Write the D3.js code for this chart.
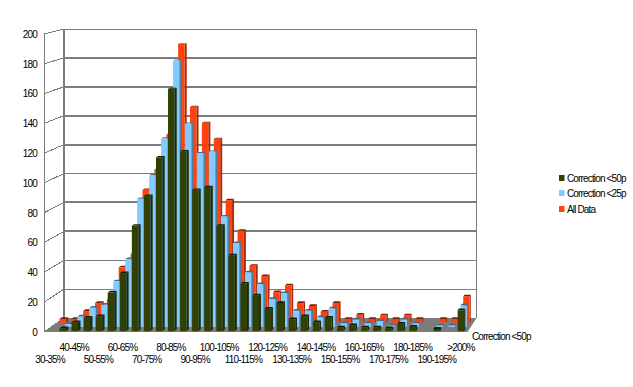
<!DOCTYPE html>
<html>
<head>
<meta charset="utf-8">
<script src="https://cdn.jsdelivr.net/npm/d3@7"></script>
<style>
  html, body { margin: 0; padding: 0; background: #fff; }
  text { font-family: "Liberation Sans", Arial, sans-serif; font-size: 10px; letter-spacing: -0.85px; fill: #000; }
</style>
</head>
<body>
<svg id="chart" width="633" height="387"></svg>
<script>
// bins, 30-35% up to >200%
const categories = ['30-35%', '35-40%', '40-45%', '45-50%', '50-55%', '55-60%', '60-65%', '65-70%', '70-75%', '75-80%',
  '80-85%', '85-90%', '90-95%', '95-100%', '100-105%', '105-110%', '110-115%', '115-120%', '120-125%', '125-130%',
  '130-135%', '135-140%', '140-145%', '145-150%', '150-155%', '155-160%', '160-165%', '165-170%', '170-175%', '175-180%',
  '180-185%', '185-190%', '190-195%', '195-200%', '>200%'];

const correction50 = [0, 2, 6, 9, 10, 26, 39, 71, 91, 117, 163, 121, 95, 97, 71, 51, 32, 24, 15, 19,
  8, 10, 6, 9, 2.5, 4, 2.5, 2.5, 2, 5, 3, 0, 1.5, 0, 14];
const correction25 = [0, 2, 7, 13, 15, 31, 46, 87, 103, 128, 181, 138, 118, 119, 75, 57, 37, 29, 19, 23,
  11, 11, 6.5, 12.5, 2.5, 5, 2.5, 4, 1, 5, 2.5, 0, 1, 1, 14.5];
const allData = [2.5, 2.5, 8, 13.5, 16, 38, 47, 91, 105, 129, 191, 148, 137, 126, 84, 63, 39, 32, 21, 25.5,
  13.5, 11.5, 7.5, 13.5, 2.5, 5.5, 2.5, 5, 2.5, 5, 2.5, 0, 2.5, 2.5, 18];

const yTicks = [0, 20, 40, 60, 80, 100, 120, 140, 160, 180, 200];
const thickTicks = [60, 80, 120, 140, 160, 180];
const seriesNames = ['Correction <50p', 'Correction <25p', 'All Data'];
const seriesColors = ['#314004', '#83caff', '#ff420e'];
const sideColors = ['#1f2902', '#4d7fa3', '#a62d0a'];
const topColors = ['#151c02', '#3f6c8c', '#7a2106'];

const n = categories.length;
const svg = d3.select('#chart');

// front edge of the floor and back wall have their own scales, depth blends between them
const frontX = d3.scaleLinear().domain([0, n]).range([44, 467]);
const backX = d3.scaleLinear().domain([0, n]).range([64, 476]);
const frontY = d3.scaleLinear().domain([0, 200]).range([332, 34]);
const backY = d3.scaleLinear().domain([0, 200]).range([318, 29]);

function pt(i, d, v) {
  return [frontX(i) + (backX(i) - frontX(i)) * d, frontY(v) + (backY(v) - frontY(v)) * d];
}
const poly = pts => pts.map(p => p.join(',')).join(' ');

const grey = '#7c7c7c';

// floor
svg.append('polygon')
  .attr('points', poly([pt(0, 0, 0), pt(0, 1, 0), pt(n, 1, 0), pt(n, 0, 0)]))
  .attr('fill', grey);

// back wall grid and left wall lines
yTicks.forEach(t => {
  svg.append('line')
    .attr('x1', backX(0)).attr('x2', backX(n))
    .attr('y1', backY(t)).attr('y2', backY(t))
    .attr('stroke', grey).attr('shape-rendering', 'crispEdges')
    .attr('stroke-width', thickTicks.includes(t) ? 2 : 1);
  svg.append('line')
    .attr('x1', frontX(0)).attr('x2', backX(0))
    .attr('y1', frontY(t)).attr('y2', backY(t))
    .attr('stroke', grey).attr('shape-rendering', 'crispEdges');
});
svg.append('line').attr('x1', frontX(0)).attr('x2', frontX(0))
  .attr('y1', frontY(0)).attr('y2', frontY(200)).attr('stroke', grey).attr('shape-rendering', 'crispEdges');
svg.append('line').attr('x1', backX(0)).attr('x2', backX(0))
  .attr('y1', backY(0)).attr('y2', backY(200)).attr('stroke', grey).attr('stroke-width', 2).attr('shape-rendering', 'crispEdges');
svg.append('line').attr('x1', backX(n)).attr('x2', backX(n))
  .attr('y1', backY(0)).attr('y2', backY(200)).attr('stroke', grey).attr('shape-rendering', 'crispEdges');
svg.append('line').attr('x1', frontX(n)).attr('x2', backX(n))
  .attr('y1', frontY(0)).attr('y2', backY(0)).attr('stroke', grey);

// bars, back series first so the front ones cover them
const seriesData = [correction50, correction25, allData];
const depthStart = [0.06, 0.36, 0.66];
const depthSize = 0.13;
const barFrom = 0.18, barTo = 0.72;

[2, 1, 0].forEach(s => {
  const g = svg.append('g');
  seriesData[s].forEach((v, i) => {
    if (!v) return;
    const d0 = depthStart[s], d1 = d0 + depthSize;
    const a = i + barFrom, b = i + barTo;
    g.append('polygon').attr('fill', sideColors[s])
      .attr('points', poly([pt(b, d0, 0), pt(b, d1, 0), pt(b, d1, v), pt(b, d0, v)]));
    g.append('polygon').attr('fill', topColors[s])
      .attr('points', poly([pt(a, d0, v), pt(b, d0, v), pt(b, d1, v), pt(a, d1, v)]));
    g.append('polygon').attr('fill', seriesColors[s])
      .attr('points', poly([pt(a, d0, 0), pt(b, d0, 0), pt(b, d0, v), pt(a, d0, v)]));
  });
});

// y labels
const yAxis = d3.axisLeft(frontY).tickValues(yTicks).tickSize(0).tickPadding(7);
const yG = svg.append('g').attr('transform', 'translate(44,0)').call(yAxis);
yG.select('.domain').remove();
yG.attr('font-family', null).attr('font-size', null);

// x labels, every second bin on two staggered rows
categories.forEach((c, i) => {
  if (i % 2 !== 0 && i !== n - 1) return;
  const row = i === n - 1 ? 0 : (i % 4 === 0 ? 1 : 0);
  svg.append('text')
    .attr('x', frontX(i + 0.5))
    .attr('y', row ? 363 : 351)
    .attr('text-anchor', 'middle')
    .text(c);
});

svg.append('text').attr('x', 472).attr('y', 340).text(seriesNames[0]);

// legend
seriesNames.forEach((name, s) => {
  const y = [178, 193, 209][s];
  svg.append('rect').attr('x', 559).attr('y', y - 3).attr('width', 5.5).attr('height', 6).attr('fill', seriesColors[s]);
  svg.append('text').attr('x', 567).attr('y', y + 3.5).text(name);
});
</script>
</body>
</html>
